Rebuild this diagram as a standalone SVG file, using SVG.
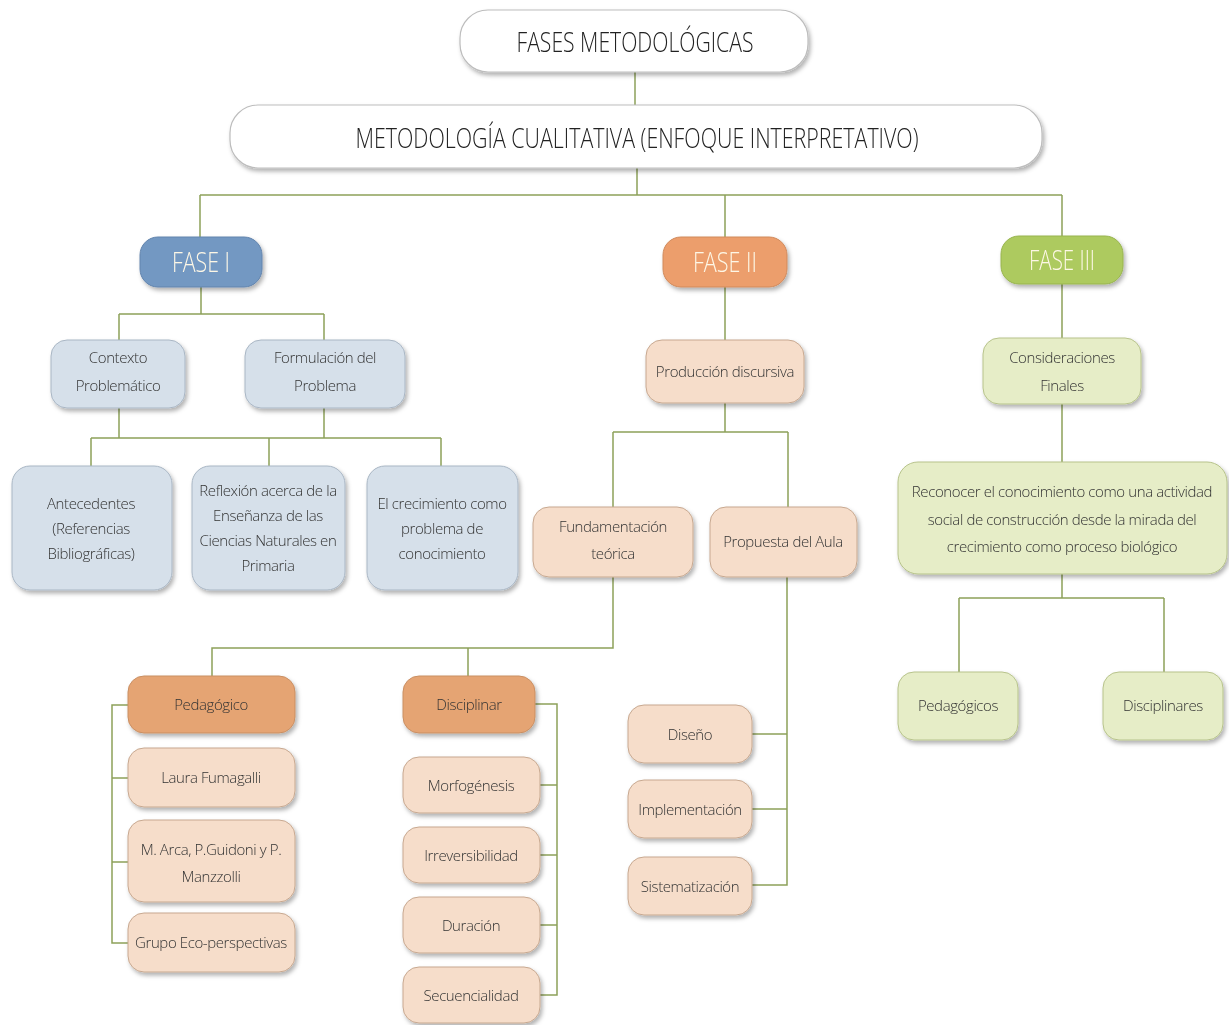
<svg xmlns="http://www.w3.org/2000/svg" width="1229" height="1025" viewBox="0 0 1229 1025">
<defs>
<filter id="sh" x="-10%" y="-10%" width="130%" height="140%">
<feDropShadow dx="2" dy="3" stdDeviation="2" flood-color="#000" flood-opacity="0.3"/>
</filter>
<style>
.t{font-family:"Open Sans","DejaVu Sans",sans-serif;font-weight:300;fill:#333;font-size:15px;text-anchor:middle;dominant-baseline:central;letter-spacing:-0.4px}
.h{font-family:"Open Sans","DejaVu Sans",sans-serif;font-weight:300;fill:#222;font-size:27px;text-anchor:middle;dominant-baseline:central}
.f{font-family:"Open Sans","DejaVu Sans",sans-serif;font-weight:300;fill:#fdf7e6;font-size:27px;text-anchor:middle;dominant-baseline:central}
.w{fill:#fff;stroke:#bdbdbd;stroke-width:1.2}
.b1{fill:#7398c2;stroke:#6284ad;stroke-width:1}
.o1{fill:#ec9e6c;stroke:#d08a5c;stroke-width:1}
.g1{fill:#adca5e;stroke:#98b450;stroke-width:1}
.bl{fill:#d6e0ea;stroke:#a9b6c4;stroke-width:1}
.pe{fill:#f6ddca;stroke:#c7a890;stroke-width:1}
.po{fill:#e5a473;stroke:#c98f63;stroke-width:1}
.gl{fill:#e6edc7;stroke:#b7c38b;stroke-width:1}
.c{fill:none;stroke:#8da15a;stroke-width:1.5}
.n{filter:url(#sh)}
</style>
</defs>
<rect width="1229" height="1025" fill="#fff"/>
<g id="connectors">
<path class="c" d="M635,72V105"/>
<path class="c" d="M637,168V195M200,195H1062M200,195V237M725,195V237M1062,195V236"/>
<path class="c" d="M201,287V314M119,314H324M119,314V340M324,314V340"/>
<path class="c" d="M119,408V438M324,408V438M91,438H441M91,438V466M269,438V466M441,438V466"/>
<path class="c" d="M725,287V340M725,403V432M613,432H788M613,432V507M788,432V507"/>
<path class="c" d="M613,577V648H212V676M468,648V676"/>
<path class="c" d="M128,705H112V943H128M112,778H128M112,862H128"/>
<path class="c" d="M535,704H557V995H540M557,785H540M557,855H540M557,925H540"/>
<path class="c" d="M787,577V885H752M787,734H752M787,809H752"/>
<path class="c" d="M1062,284V338M1062,404V462M1062,574V598M959,598H1164M959,598V672M1164,598V672"/>
</g>
<g id="n-fases" class="n"><rect class="w" x="460" y="10" width="348" height="62" rx="28"/><text class="h" x="635" y="41" textLength="237" lengthAdjust="spacingAndGlyphs">FASES METODOLÓGICAS</text></g>
<g id="n-metodologia" class="n"><rect class="w" x="230" y="105" width="812" height="63" rx="28"/><text class="h" x="637" y="137" textLength="563" lengthAdjust="spacingAndGlyphs">METODOLOGÍA CUALITATIVA (ENFOQUE INTERPRETATIVO)</text></g>
<g id="n-fase1" class="n"><rect class="b1" x="140" y="237" width="122" height="50" rx="18"/><text class="f" x="201" y="261" textLength="58" lengthAdjust="spacingAndGlyphs">FASE I</text></g>
<g id="n-fase2" class="n"><rect class="o1" x="663" y="237" width="124" height="50" rx="18"/><text class="f" x="725" y="261" textLength="64" lengthAdjust="spacingAndGlyphs">FASE II</text></g>
<g id="n-fase3" class="n"><rect class="g1" x="1001" y="236" width="122" height="48" rx="18"/><text class="f" x="1062" y="259" textLength="66" lengthAdjust="spacingAndGlyphs">FASE III</text></g>
<g id="n-contexto" class="n"><rect class="bl" x="51" y="340" width="134" height="68" rx="16"/><text class="t" x="118" y="357">Contexto</text><text class="t" x="118" y="385">Problemático</text></g>
<g id="n-formulacion" class="n"><rect class="bl" x="245" y="340" width="160" height="68" rx="16"/><text class="t" x="325" y="357">Formulación del</text><text class="t" x="325" y="385">Problema</text></g>
<g id="n-antecedentes" class="n"><rect class="bl" x="12" y="466" width="160" height="124" rx="18"/><text class="t" x="91" y="503">Antecedentes</text><text class="t" x="91" y="528">(Referencias</text><text class="t" x="91" y="553">Bibliográficas)</text></g>
<g id="n-reflexion" class="n"><rect class="bl" x="192" y="466" width="153" height="124" rx="18"/><text class="t" x="268" y="490">Reflexión acerca de la</text><text class="t" x="268" y="515">Enseñanza de las</text><text class="t" x="268" y="540">Ciencias Naturales en</text><text class="t" x="268" y="565">Primaria</text></g>
<g id="n-crecimiento" class="n"><rect class="bl" x="367" y="466" width="151" height="124" rx="18"/><text class="t" x="442" y="503">El crecimiento como</text><text class="t" x="442" y="528">problema de</text><text class="t" x="442" y="553">conocimiento</text></g>
<g id="n-produccion" class="n"><rect class="pe" x="646" y="340" width="158" height="63" rx="16"/><text class="t" x="725" y="371">Producción discursiva</text></g>
<g id="n-fundamentacion" class="n"><rect class="pe" x="533" y="507" width="160" height="70" rx="16"/><text class="t" x="613" y="526">Fundamentación</text><text class="t" x="613" y="553">teórica</text></g>
<g id="n-propuesta" class="n"><rect class="pe" x="710" y="507" width="147" height="70" rx="16"/><text class="t" x="783" y="541">Propuesta del Aula</text></g>
<g id="n-pedagogico" class="n"><rect class="po" x="128" y="676" width="167" height="57" rx="16"/><text class="t" x="211" y="704">Pedagógico</text></g>
<g id="n-disciplinar" class="n"><rect class="po" x="403" y="676" width="132" height="57" rx="16"/><text class="t" x="469" y="704">Disciplinar</text></g>
<g id="n-laura" class="n"><rect class="pe" x="128" y="748" width="167" height="59" rx="16"/><text class="t" x="211" y="777">Laura Fumagalli</text></g>
<g id="n-arca" class="n"><rect class="pe" x="128" y="820" width="167" height="82" rx="16"/><text class="t" x="211" y="849">M. Arca, P.Guidoni y  P.</text><text class="t" x="211" y="876">Manzzolli</text></g>
<g id="n-grupo" class="n"><rect class="pe" x="128" y="913" width="167" height="59" rx="16"/><text class="t" x="211" y="942">Grupo Eco-perspectivas</text></g>
<g id="n-morfogenesis" class="n"><rect class="pe" x="403" y="757" width="137" height="56" rx="16"/><text class="t" x="471" y="785">Morfogénesis</text></g>
<g id="n-irreversibilidad" class="n"><rect class="pe" x="403" y="827" width="137" height="56" rx="16"/><text class="t" x="471" y="855">Irreversibilidad</text></g>
<g id="n-duracion" class="n"><rect class="pe" x="403" y="897" width="137" height="56" rx="16"/><text class="t" x="471" y="925">Duración</text></g>
<g id="n-secuencialidad" class="n"><rect class="pe" x="403" y="967" width="137" height="56" rx="16"/><text class="t" x="471" y="995">Secuencialidad</text></g>
<g id="n-diseno" class="n"><rect class="pe" x="628" y="705" width="124" height="58" rx="16"/><text class="t" x="690" y="734">Diseño</text></g>
<g id="n-implementacion" class="n"><rect class="pe" x="628" y="780" width="124" height="58" rx="16"/><text class="t" x="690" y="809">Implementación</text></g>
<g id="n-sistematizacion" class="n"><rect class="pe" x="628" y="857" width="124" height="58" rx="16"/><text class="t" x="690" y="886">Sistematización</text></g>
<g id="n-consideraciones" class="n"><rect class="gl" x="983" y="338" width="158" height="66" rx="16"/><text class="t" x="1062" y="357">Consideraciones</text><text class="t" x="1062" y="385">Finales</text></g>
<g id="n-reconocer" class="n"><rect class="gl" x="898" y="462" width="329" height="112" rx="20"/><text class="t" x="1062" y="491">Reconocer el conocimiento como una actividad</text><text class="t" x="1062" y="519">social de construcción desde la mirada del</text><text class="t" x="1062" y="546">crecimiento como proceso biológico</text></g>
<g id="n-pedagogicos" class="n"><rect class="gl" x="898" y="672" width="120" height="68" rx="16"/><text class="t" x="958" y="705">Pedagógicos</text></g>
<g id="n-disciplinares" class="n"><rect class="gl" x="1103" y="672" width="120" height="68" rx="16"/><text class="t" x="1163" y="705">Disciplinares</text></g>
</svg>
